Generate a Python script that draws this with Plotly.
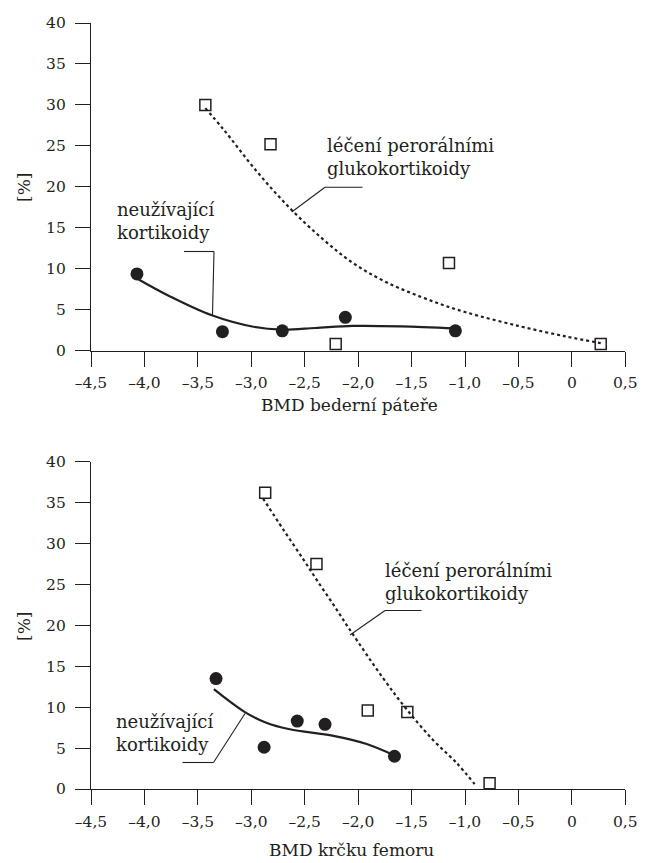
import plotly.graph_objects as go

# page body has an 8px margin, so the figure is drawn 8px smaller and all
# layout positions below are given in window pixels and shifted by OFF
OFF = 8
W, H = 650 - OFF, 863 - OFF

# ---------------- data ----------------
# Top panel: BMD bederní páteře
top_treated_x = [-3.43, -2.82, -2.21, -1.15, 0.27]
top_treated_y = [30.0, 25.2, 0.8, 10.7, 0.8]
top_untreated_x = [-4.07, -3.27, -2.71, -2.12, -1.09]
top_untreated_y = [9.35, 2.3, 2.4, 4.05, 2.4]
top_treated_fit_x = [-3.43, -3.26, -2.95, -2.64, -2.33, -2.05, -1.73, -1.3, -1.0, -0.5, -0.05, 0.27]
top_treated_fit_y = [29.6, 27.0, 21.9, 17.4, 13.6, 10.7, 8.3, 6.0, 4.7, 3.0, 1.7, 0.9]
top_untreated_fit_x = [-4.07, -3.76, -3.37, -2.98, -2.71, -2.4, -2.05, -1.6, -1.09]
top_untreated_fit_y = [8.8, 6.6, 4.3, 2.9, 2.55, 2.75, 3.0, 2.95, 2.7]

# Bottom panel: BMD krčku femoru
bot_treated_x = [-2.87, -2.39, -1.91, -1.54, -0.77]
bot_treated_y = [36.2, 27.5, 9.6, 9.4, 0.7]
bot_untreated_x = [-3.33, -2.88, -2.57, -2.31, -1.66]
bot_untreated_y = [13.5, 5.1, 8.3, 7.9, 4.0]
bot_treated_fit_x = [-2.89, -2.70, -2.51, -2.39, -2.23, -2.08, -1.77, -1.55, -1.30, -1.08, -0.91]
bot_treated_fit_y = [35.5, 31.7, 28.0, 25.6, 22.5, 19.5, 13.6, 9.8, 6.0, 3.2, 0.6]
bot_untreated_fit_x = [-3.35, -3.06, -2.86, -2.64, -2.23, -1.92, -1.66]
bot_untreated_fit_y = [12.2, 9.4, 8.1, 7.3, 6.5, 5.5, 4.1]

x_tick_vals = [-4.5, -4.0, -3.5, -3.0, -2.5, -2.0, -1.5, -1.0, -0.5, 0.0, 0.5]
x_tick_text = ["–4,5", "–4,0", "–3,5", "–3,0", "–2,5", "–2,0", "–1,5", "–1,0", "–0,5", "0", "0,5"]
y_tick_vals = [0, 5, 10, 15, 20, 25, 30, 35, 40]
y_tick_text = ["0", "5", "10", "15", "20", "25", "30", "35", "40"]

label_treated = "léčení perorálními<br>glukokortikoidy"
label_untreated = "neužívající<br>kortikoidy"
title_top = "BMD bederní páteře"
title_bot = "BMD krčku femoru"
y_title = "[%]"

# ---------------- style ----------------
INK = "#231f20"
FONT = "DejaVu Serif"


def px(x):
    return (x - OFF) / W


def py(y):
    return 1 - (y - OFF) / H


fig = go.Figure()


def add_panel(xa, ya, tfx, tfy, ufx, ufy, tx, ty, ux, uy):
    fig.add_trace(go.Scatter(x=tfx, y=tfy, mode="lines", xaxis=xa, yaxis=ya,
                             line=dict(color=INK, width=2.2, dash="dot", shape="spline", smoothing=1.0),
                             showlegend=False, hoverinfo="skip"))
    fig.add_trace(go.Scatter(x=ufx, y=ufy, mode="lines", xaxis=xa, yaxis=ya,
                             line=dict(color=INK, width=2.2, shape="spline"),
                             showlegend=False, hoverinfo="skip"))
    fig.add_trace(go.Scatter(x=tx, y=ty, mode="markers", xaxis=xa, yaxis=ya,
                             marker=dict(symbol="square-open", size=11, color=INK,
                                         line=dict(width=1.5, color=INK)),
                             cliponaxis=False, showlegend=False))
    fig.add_trace(go.Scatter(x=ux, y=uy, mode="markers", xaxis=xa, yaxis=ya,
                             marker=dict(symbol="circle", size=13, color=INK),
                             cliponaxis=False, showlegend=False))


add_panel("x", "y", top_treated_fit_x, top_treated_fit_y, top_untreated_fit_x, top_untreated_fit_y,
          top_treated_x, top_treated_y, top_untreated_x, top_untreated_y)
add_panel("x2", "y2", bot_treated_fit_x, bot_treated_fit_y, bot_untreated_fit_x, bot_untreated_fit_y,
          bot_treated_x, bot_treated_y, bot_untreated_x, bot_untreated_y)

xdom = [px(91), px(625.3)]
top_dom = [py(350.5), py(23)]
bot_dom = [py(789), py(461.7)]

axis_common = dict(showgrid=False, zeroline=False, showline=True, linecolor=INK, linewidth=1.2,
                   ticks="outside", ticklen=15, tickwidth=1.2, tickcolor=INK, automargin=False,
                   tickfont=dict(family=FONT, size=15.5, color=INK))

xcommon = dict(axis_common, range=[-4.5, 0.5], tickmode="array", tickvals=x_tick_vals,
               ticktext=x_tick_text, domain=xdom, ticklabelstandoff=3)
ycommon = dict(axis_common, range=[0, 40], tickmode="array", tickvals=y_tick_vals,
               ticktext=y_tick_text, ticklabelstandoff=6)

fig.update_layout(
    width=W, height=H,
    margin=dict(l=0, r=0, t=0, b=0, autoexpand=False),
    paper_bgcolor="white", plot_bgcolor="white",
    xaxis=dict(xcommon, anchor="y"),
    yaxis=dict(ycommon, domain=top_dom, anchor="x"),
    xaxis2=dict(xcommon, anchor="y2"),
    yaxis2=dict(ycommon, domain=bot_dom, anchor="x2"),
    font=dict(family=FONT, color=INK),
)

ann_font = dict(family=FONT, size=18, color=INK)
title_font = dict(family=FONT, size=17, color=INK)

annotations = [
    dict(text=label_treated, x=px(325), y=py(157), xanchor="left", yanchor="middle", align="left"),
    dict(text=label_untreated, x=px(115), y=py(221), xanchor="left", yanchor="middle", align="left"),
    dict(text=label_treated, x=px(383), y=py(582), xanchor="left", yanchor="middle", align="left"),
    dict(text=label_untreated, x=px(114), y=py(733), xanchor="left", yanchor="middle", align="left"),
]
for a in annotations:
    fig.add_annotation(xref="paper", yref="paper", showarrow=False, font=ann_font, **a)

fig.add_annotation(text=title_top, xref="paper", yref="paper", x=px(350), y=py(405),
                   xanchor="center", yanchor="middle", showarrow=False, font=title_font)
fig.add_annotation(text=title_bot, xref="paper", yref="paper", x=px(352), y=py(850),
                   xanchor="center", yanchor="middle", showarrow=False, font=title_font)
fig.add_annotation(text=y_title, xref="paper", yref="paper", x=px(24), y=py(188), textangle=-90,
                   xanchor="center", yanchor="middle", showarrow=False, font=title_font)
fig.add_annotation(text=y_title, xref="paper", yref="paper", x=px(24), y=py(627), textangle=-90,
                   xanchor="center", yanchor="middle", showarrow=False, font=title_font)

# leader lines (window pixel positions of the callouts)
leaders = [
    ((325, 187.3), (362.5, 187.3)), ((325, 187.3), (291.7, 212)),
    ((184, 251.5), (214, 251.5)), ((214, 251.5), (212.5, 315)),
    ((385, 610.5), (421.5, 610.5)), ((385, 610.5), (350, 635)),
    ((182.5, 762.5), (213.5, 762.5)), ((213.5, 762.5), (245, 713.5)),
]
for (x0, y0), (x1, y1) in leaders:
    fig.add_shape(type="line", xref="paper", yref="paper", x0=px(x0), y0=py(y0), x1=px(x1), y1=py(y1),
                  line=dict(color=INK, width=1.1))

fig.write_html("out.html")
